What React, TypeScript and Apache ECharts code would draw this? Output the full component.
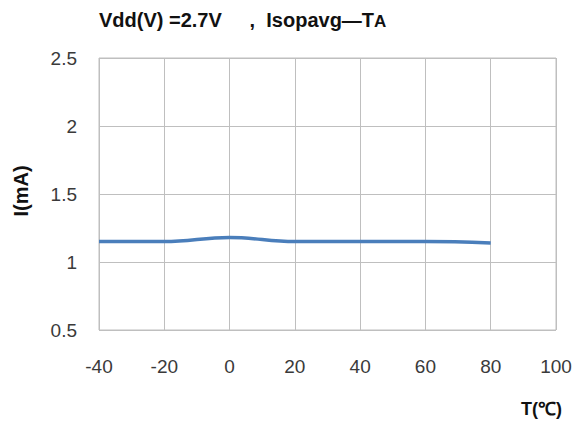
import React, { useEffect, useRef } from "react";
import * as echarts from "echarts";

const temps = [-40, -20, 0, 20, 40, 60, 80];
const currents = [1.15, 1.15, 1.18, 1.15, 1.15, 1.15, 1.14];
const xTicks = { min: -40, max: 100, interval: 20 };
const yTicks = { min: 0.5, max: 2.5, interval: 0.5 };

export default function App() {
  const ref = useRef<HTMLDivElement>(null);
  useEffect(() => {
    const chart = echarts.init(ref.current!, null, { renderer: "svg" });
    const font = "Liberation Sans, Arial, sans-serif";
    chart.setOption({
      animation: false,
      backgroundColor: "#fff",
      title: {
        text: "{b|Vdd(V) =2.7V     ,  Isopavg—T}{s|A}",
        left: 94,
        top: 5,
        textStyle: {
          rich: {
            b: { fontFamily: font, fontSize: 20, fontWeight: "bold", color: "#111" },
            s: { fontFamily: font, fontSize: 17, color: "#111", padding: [2, 0, 0, 0] },
          },
        },
      },
      grid: {
        left: 99,
        right: 20,
        top: 58,
        bottom: 93,
        show: true,
        borderColor: "#bfbfbf",
        borderWidth: 1,
      },
      xAxis: {
        type: "value",
        min: xTicks.min,
        max: xTicks.max,
        interval: xTicks.interval,
        axisLine: { show: false },
        axisTick: { show: false },
        axisLabel: { fontFamily: font, fontSize: 19, color: "#3a3a3a", margin: 27 },
        splitLine: { show: true, lineStyle: { color: "#bfbfbf", width: 1 } },
        name: "T(℃)",
        nameLocation: "end",
        nameGap: 0,
        nameTextStyle: {
          fontFamily: font,
          fontSize: 18,
          fontWeight: "bold",
          color: "#111",
          align: "center",
          verticalAlign: "top",
          padding: [70, 29, 0, 0],
        },
      },
      yAxis: {
        type: "value",
        min: yTicks.min,
        max: yTicks.max,
        interval: yTicks.interval,
        axisLine: { show: false },
        axisTick: { show: false },
        axisLabel: { fontFamily: font, fontSize: 19, color: "#3a3a3a", margin: 22 },
        splitLine: { show: true, lineStyle: { color: "#bfbfbf", width: 1 } },
        name: "I(mA)",
        nameLocation: "middle",
        nameGap: 68,
        nameRotate: 90,
        nameTextStyle: {
          fontFamily: font,
          fontSize: 20,
          fontWeight: "bold",
          color: "#111",
          padding: [0, 0, 0, 6],
        },
      },
      series: [
        {
          type: "line",
          data: temps.map((t, i) => [t, currents[i]]),
          smooth: 0.4,
          showSymbol: false,
          lineStyle: { color: "#4a7ebb", width: 3.5 },
        },
      ],
    });
    return () => chart.dispose();
  }, []);
  return <div ref={ref} style={{ width: 576, height: 423, position: "absolute", left: 0, top: 0 }} />;
}
